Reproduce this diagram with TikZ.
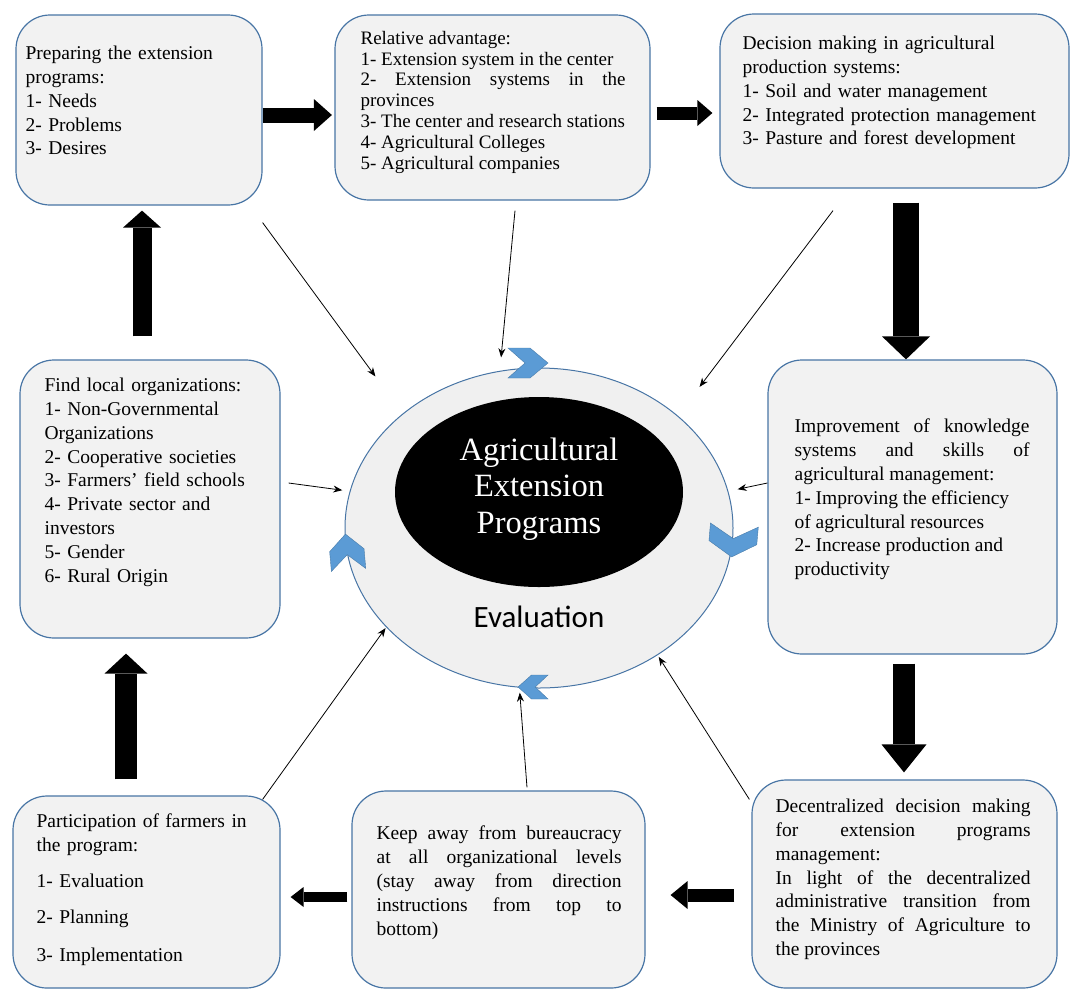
\documentclass[tikz,border=0pt]{standalone}
\usepackage{fontspec}
\setmainfont{Liberation Serif}
\newfontfamily\evalfont{Carlito}
\usepackage{tikz}
\usetikzlibrary{arrows.meta,shapes.geometric,positioning}
\usepackage{xcolor}
\definecolor{agline}{RGB}{72,117,165}
\definecolor{agfill}{RGB}{242,242,242}
\definecolor{agring}{RGB}{240,240,240}
\definecolor{agchev}{RGB}{91,155,213}
\newcommand{\boxfont}{\fontsize{19.5}{23.8}\selectfont}
\newcommand{\smallboxfont}{\fontsize{19}{20.8}\selectfont}
\newcommand{\corefont}{\fontsize{32.5}{36.5}\selectfont}
\setlength{\parindent}{0pt}
\hyphenpenalty=10000
\exhyphenpenalty=10000
\tolerance=10000
\hbadness=10000
\tikzstyle{pointer} = [line width=0.8pt,-{Stealth[length=9pt,width=7pt]},color=black]

\begin{document}
\begin{tikzpicture}[
    x=1pt, y=1pt,
    box/.style={rectangle, rounded corners=34pt, draw=agline, fill=agfill, line width=1.2pt},
    boxtext/.style={anchor=north west, inner sep=0pt, font=\boxfont, align=left},
    justtext/.style={boxtext, align=justify},
    bigarrow/.style n args={3}{line width=#1, -{Triangle[width=#2, length=#3, line width=0pt]}},
    chev/.pic={\filldraw[fill=agchev, draw=agchev!80!black, line width=0.4pt] (-20,15) -- (2,15) -- (20,0) -- (2,-15) -- (-20,-15) -- (-3,0) -- cycle;}
]
\useasboundingbox (0,0) rectangle (1071,-989);

% Central node
\node (ring) [ellipse, draw=agline, fill=agring, line width=1pt, minimum width=388pt, minimum height=320pt] at (539,-528) {};
\node (core) [ellipse, fill=black, minimum width=288pt, minimum height=190pt] at (539,-492) {};
\node (title) [text=white, font=\corefont, align=center] at (539,-489) {Agricultural\\Extension\\Programs};
\node (eval) [font=\evalfont\fontsize{31}{36}\selectfont] at (539,-617) {Evaluation};

% Boxes
\node (prep) [box, minimum width=246pt, minimum height=190pt] at (139,-110) {};
\node (rel) [box, minimum width=315pt, minimum height=185pt] at (492.5,-107.5) {};
\node (dec) [box, minimum width=349pt, minimum height=174pt] at (894.5,-101) {};
\node (find) [box, minimum width=260pt, minimum height=278pt] at (150,-499) {};
\node (imp) [box, minimum width=289pt, minimum height=294pt] at (912.5,-507) {};
\node (part) [box, minimum width=267pt, minimum height=192pt] at (146.5,-892) {};
\node (keep) [box, minimum width=293pt, minimum height=197pt] at (498.5,-889.5) {};
\node (decen) [box, minimum width=305pt, minimum height=208pt] at (904.5,-884) {};

% Box texts
\node (prep-t) [boxtext, text width=225pt] at ([xshift=10pt, yshift=-31.5pt]prep.north west)
  {Preparing the extension\\ programs:\\ 1- Needs\\ 2- Problems\\ 3- Desires};
\node (rel-t) [justtext, font=\smallboxfont, text width=265pt] at ([xshift=26pt, yshift=-16.5pt]rel.north west)
  {Relative advantage:\newline
   1- Extension system in the center\newline
   2- Extension systems in the\linebreak
   provinces\newline
   3- The center and research stations\newline
   4- Agricultural Colleges\newline
   5- Agricultural companies};
\node (dec-t) [boxtext, text width=320pt] at ([xshift=23pt, yshift=-22.5pt]dec.north west)
  {Decision making in agricultural\\ production systems:\\ 1- Soil and water management\\ 2- Integrated protection management\\ 3- Pasture and forest development};
\node (find-t) [boxtext, text width=230pt] at ([xshift=25pt, yshift=-18.5pt]find.north west)
  {Find local organizations:\\ 1- Non-Governmental\\ Organizations\\ 2- Cooperative societies\\ 3- Farmers' field schools\\ 4- Private sector and\\ investors\\ 5- Gender\\ 6- Rural Origin};
\node (imp-t) [justtext, text width=235pt] at ([xshift=27pt, yshift=-59.5pt]imp.north west)
  {Improvement of knowledge\linebreak
   systems and skills of\linebreak
   agricultural management:\newline
   1- Improving the efficiency\newline
   of agricultural resources\newline
   2- Increase production and\newline
   productivity};
\node (part-t) [boxtext, text width=240pt] at ([xshift=24pt, yshift=-18.5pt]part.north west)
  {Participation of farmers in\\ the program:\\[12pt] 1- Evaluation\\[12pt] 2- Planning\\[14pt] 3- Implementation};
\node (keep-t) [justtext, text width=245pt] at ([xshift=25pt, yshift=-35.5pt]keep.north west)
  {Keep away from bureaucracy\linebreak
   at all organizational levels\linebreak
   (stay away from direction\linebreak
   instructions from top to\linebreak
   bottom)};
\node (decen-t) [justtext, text width=255pt] at ([xshift=24pt, yshift=-19.5pt]decen.north west)
  {Decentralized decision making\linebreak
   for extension programs\linebreak
   management:\newline
   In light of the decentralized\linebreak
   administrative transition from\linebreak
   the Ministry of Agriculture to\linebreak
   the provinces};

% Cycle arrows
\draw[bigarrow={15pt}{32pt}{18pt}, shorten >=2.5pt] ([yshift=-5pt]prep.east) -- ([yshift=-5pt]prep.east -| rel.west);
\draw[bigarrow={13pt}{26pt}{15pt}, shorten <=6pt, shorten >=7pt] ([yshift=-5.5pt]rel.east) -- ([yshift=-5.5pt]rel.east -| dec.west);
\draw[bigarrow={26pt}{48pt}{23pt}, shorten <=14pt] ([xshift=11.5pt]dec.south) -- ([xshift=11.5pt]dec.south |- imp.north);
\draw[bigarrow={22pt}{45pt}{28pt}, shorten <=9pt, shorten >=7pt] ([xshift=-8.5pt]imp.south) -- ([xshift=-8.5pt]imp.south |- decen.north);
\draw[bigarrow={13pt}{28pt}{17pt}, shorten <=17pt, shorten >=25pt] ([yshift=-11pt]decen.west) -- ([yshift=-11pt]decen.west -| keep.east);
\draw[bigarrow={10pt}{20pt}{13pt}, shorten <=4pt, shorten >=10pt] ([yshift=-7.5pt]keep.west) -- ([yshift=-7.5pt]keep.west -| part.east);
\draw[bigarrow={22pt}{43pt}{20pt}, shorten <=16pt, shorten >=15pt] ([xshift=-20.5pt]part.north) -- ([xshift=-20.5pt]part.north |- find.south);
\draw[bigarrow={19pt}{38pt}{17pt}, shorten <=23pt, shorten >=5pt] ([xshift=-8pt]find.north) -- ([xshift=-8pt]find.north |- prep.south);

% Links to the programs
\draw[pointer, shorten >=46pt] ([yshift=-17pt]prep.south east) -- (ring.140);
\draw[pointer, shorten >=13.5pt] ([xshift=22.5pt, yshift=-10pt]rel.south) -- (ring.104);
\draw[pointer, shorten >=36pt] ([xshift=-61.5pt, yshift=-22pt]dec.south) -- (ring.39);
\draw[pointer, shorten >=7.5pt] ([xshift=8pt, yshift=16pt]find.east) -- (ring.169);
\draw[pointer, shorten >=9.5pt] ([yshift=24pt]imp.west) -- (ring.11);
\draw[pointer, shorten >=1pt] ([xshift=-18pt, yshift=-4pt]part.north east) -- (ring.213);
\draw[pointer, shorten >=5pt] ([xshift=28.5pt, yshift=3pt]keep.north) -- (ring.263);
\draw[pointer, shorten >=2pt] ([xshift=-2pt, yshift=-20pt]decen.north west) -- (ring.313);

% Cycle marks
\pic at (528,-363) {chev};
\pic[rotate=-95, xscale=0.8, yscale=1.6] at (733,-541) {chev};
\pic[rotate=180, xscale=0.75, yscale=0.8] at (533,-687) {chev};
\pic[rotate=95, xscale=0.9, yscale=1.15] at (347,-552) {chev};
\end{tikzpicture}
\end{document}
